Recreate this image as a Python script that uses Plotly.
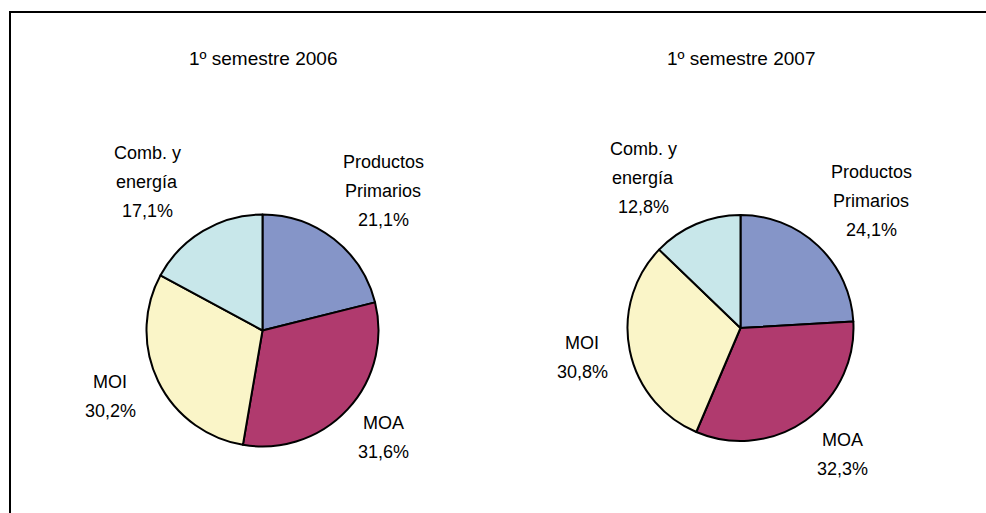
import plotly.graph_objects as go

W, H = 986, 513

# data
categories = ["Productos<br>Primarios", "MOA", "MOI", "Comb. y<br>energía"]
values_2006 = [21.1, 31.6, 30.2, 17.1]
values_2007 = [24.1, 32.3, 30.8, 12.8]
titles = ["1º semestre 2006", "1º semestre 2007"]

colors = ["#8595C8", "#B03A6E", "#FAF5C8", "#C8E7EA"]
label_font = dict(family="Liberation Sans, Arial", size=18, color="black")
title_font = dict(family="Liberation Sans, Arial", size=19, color="black")
LINE_STEP = 29  # px between label lines


def px_x(v):
    return v / W


def px_y(v):
    return 1 - v / H


def pie_domain(cx, cy, d):
    r = d / 2
    return dict(x=[px_x(cx - r), px_x(cx + r)], y=[px_y(cy + r), px_y(cy - r)])


# pixel layout of each panel: pie centre, diameter, title centre,
# label centre x and first-line y
panels = [
    dict(values=values_2006, cx=262.5, cy=330.5, d=232, title=(263, 58),
         labels=[(383, 162), (383, 423), (110, 382), (147, 153)]),
    dict(values=values_2007, cx=740.5, cy=328, d=226, title=(741, 58),
         labels=[(871, 172), (842, 440), (582, 343), (643, 149)]),
]

fig = go.Figure()
annotations = []

for p, title in zip(panels, titles):
    fig.add_trace(go.Pie(
        labels=[c.replace("<br>", " ") for c in categories],
        values=p["values"],
        sort=False,
        direction="clockwise",
        rotation=0,
        textinfo="none",
        hoverinfo="label+percent",
        marker=dict(colors=colors, line=dict(color="black", width=2)),
        domain=pie_domain(p["cx"], p["cy"], p["d"]),
        showlegend=False,
    ))
    annotations.append(dict(
        text=title, x=px_x(p["title"][0]), y=px_y(p["title"][1]),
        xref="paper", yref="paper", xanchor="center", yanchor="middle",
        showarrow=False, font=title_font,
    ))
    for cat, v, (lx, ly) in zip(categories, p["values"], p["labels"]):
        lines = cat.split("<br>") + [f"{v:.1f}%".replace(".", ",")]
        for i, line in enumerate(lines):
            annotations.append(dict(
                text=line, x=px_x(lx), y=px_y(ly + i * LINE_STEP),
                xref="paper", yref="paper", xanchor="center", yanchor="middle",
                showarrow=False, font=label_font,
            ))

fig.update_layout(
    width=W,
    height=H,
    margin=dict(l=0, r=0, t=0, b=0),
    paper_bgcolor="white",
    plot_bgcolor="white",
    annotations=annotations,
    shapes=[dict(
        type="rect", xref="paper", yref="paper",
        x0=px_x(10), x1=1.05, y0=-0.05, y1=px_y(12),
        line=dict(color="black", width=2),
    )],
)

fig.write_html(
    "out.html",
    config={"displayModeBar": False},
    post_script="document.body.style.margin='0';",
)
